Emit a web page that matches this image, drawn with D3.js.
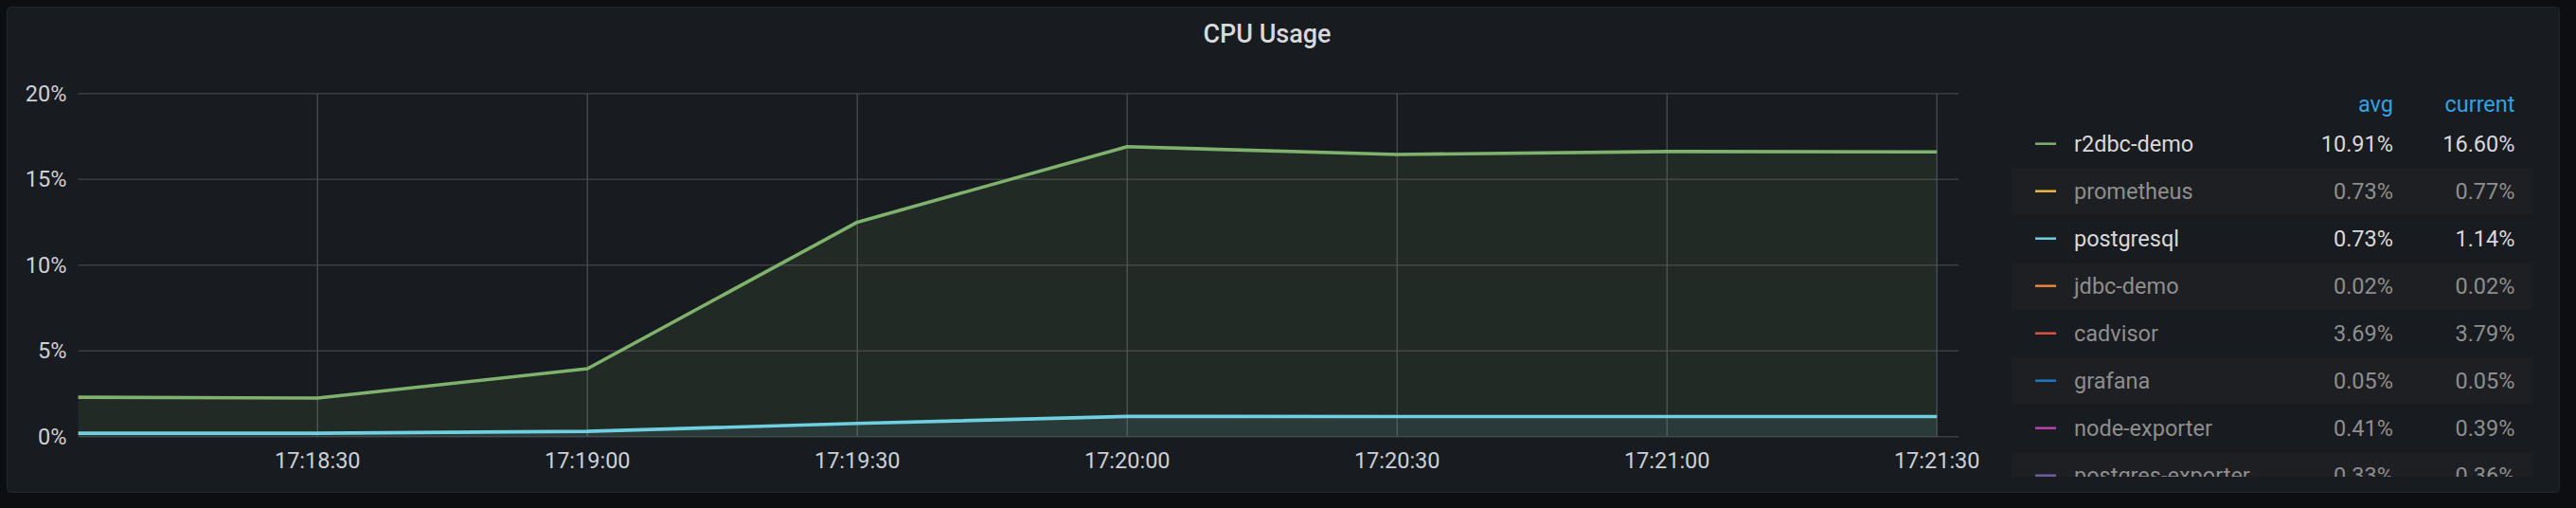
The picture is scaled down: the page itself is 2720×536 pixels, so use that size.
<!DOCTYPE html>
<html>
<head>
<meta charset="utf-8">
<script src="https://cdn.jsdelivr.net/npm/d3@7"></script>
<style>
  html, body { margin: 0; padding: 0; background: #0d0e11; }
  svg { display: block; font-family: Roboto, "Noto Sans", sans-serif; }
</style>
</head>
<body>
<svg id="chart" width="2720" height="536"></svg>
<script>
// ---------- data ----------
const title = "CPU Usage";
const sampleTimes = ["17:18:00", "17:18:30", "17:19:00", "17:19:30", "17:20:00", "17:20:30", "17:21:00", "17:21:30"];
const r2dbcDemoValues = [2.3, 2.25, 3.96, 12.5, 16.9, 16.45, 16.62, 16.6];
const postgresqlValues = [0.2, 0.2, 0.31, 0.77, 1.18, 1.17, 1.17, 1.17];
const yTickValues = [0, 5, 10, 15, 20];
const xTickLabels = ["17:18:30", "17:19:00", "17:19:30", "17:20:00", "17:20:30", "17:21:00", "17:21:30"];
const timeRange = ["17:18:03.4", "17:21:32.4"];

const legendNames = ["r2dbc-demo", "prometheus", "postgresql", "jdbc-demo", "cadvisor", "grafana", "node-exporter", "postgres-exporter"];
const legendAvg = ["10.91%", "0.73%", "0.73%", "0.02%", "3.69%", "0.05%", "0.41%", "0.33%"];
const legendCurrent = ["16.60%", "0.77%", "1.14%", "0.02%", "3.79%", "0.05%", "0.39%", "0.36%"];
const legendColors = ["#7eb26d", "#eab839", "#6ed0e0", "#ef843c", "#e24d42", "#1f78c1", "#ba43a9", "#705da0"];
const legendVisible = [true, false, true, false, false, false, false, false];
const legendHeaders = ["avg", "current"];

// ---------- setup ----------
const parseT = d3.timeParse("%H:%M:%S");
const parseTms = d3.timeParse("%H:%M:%S.%L");
const pt = s => s.includes(".") ? parseTms(s + "00") : parseT(s);

const svg = d3.select("#chart");

// panel
svg.append("rect")
  .attr("x", 7.5).attr("y", 7.5).attr("width", 2695).attr("height", 512)
  .attr("rx", 4).attr("fill", "#181b1f").attr("stroke", "#24262b");

// title
svg.append("text")
  .attr("x", 1338).attr("y", 36)
  .attr("text-anchor", "middle").attr("dominant-baseline", "central")
  .attr("font-size", 27).attr("font-weight", 500).attr("fill", "#d8d9da")
  .text(title);

const plotLeft = 82.6, plotRight = 2068, plotTop = 98.7, plotBottom = 460.7;
const x = d3.scaleTime().domain(timeRange.map(pt)).range([plotLeft, plotRight]);
const y = d3.scaleLinear().domain([0, 20]).range([plotBottom, plotTop]);

// grid
const gridColor = "#3c3e43";
const g = svg.append("g");
g.selectAll(".hg").data(yTickValues).join("line")
  .attr("x1", plotLeft).attr("x2", plotRight)
  .attr("y1", d => y(d)).attr("y2", d => y(d))
  .attr("stroke", gridColor).attr("stroke-width", 1.5);
g.selectAll(".vg").data(xTickLabels).join("line")
  .attr("x1", d => x(pt(d))).attr("x2", d => x(pt(d)))
  .attr("y1", plotTop).attr("y2", plotBottom)
  .attr("stroke", "#45474c").attr("stroke-width", 1.5);

// y labels
svg.append("g").selectAll("text").data(yTickValues).join("text")
  .attr("x", 70.5).attr("y", d => y(d))
  .attr("text-anchor", "end").attr("dominant-baseline", "central")
  .attr("font-size", 23.5).attr("fill", "#ccd0d6")
  .text(d => d + "%");

// x labels
svg.append("g").selectAll("text").data(xTickLabels).join("text")
  .attr("x", d => x(pt(d))).attr("y", 486)
  .attr("text-anchor", "middle").attr("dominant-baseline", "central")
  .attr("font-size", 23.5).attr("fill", "#ccd0d6")
  .text(d => d);

// clip
svg.append("clipPath").attr("id", "plotclip").append("rect")
  .attr("x", plotLeft).attr("y", 0).attr("width", plotRight - plotLeft).attr("height", plotBottom);

const plot = svg.append("g").attr("clip-path", "url(#plotclip)");
const series = [
  { values: r2dbcDemoValues, color: legendColors[0] },
  { values: postgresqlValues, color: legendColors[2] }
];
series.forEach(s => {
  const pts = sampleTimes.map((t, i) => [pt(t), s.values[i]]);
  plot.append("path").datum(pts)
    .attr("d", d3.area().x(d => x(d[0])).y0(y(0)).y1(d => y(d[1])))
    .attr("fill", s.color).attr("fill-opacity", 0.1);
});
series.forEach(s => {
  const pts = sampleTimes.map((t, i) => [pt(t), s.values[i]]);
  plot.append("path").datum(pts)
    .attr("d", d3.line().x(d => x(d[0])).y(d => y(d[1])))
    .attr("fill", "none").attr("stroke", s.color).attr("stroke-width", 3.6)
    .attr("stroke-linejoin", "round");
});

// legend
const avgRight = 2527, curRight = 2655.5;
svg.append("g").selectAll("text").data(legendHeaders).join("text")
  .attr("x", (d, i) => i === 0 ? avgRight : curRight).attr("y", 110)
  .attr("text-anchor", "end").attr("dominant-baseline", "central")
  .attr("font-size", 23.5).attr("fill", "#33a2e5")
  .text(d => d);

svg.append("clipPath").attr("id", "legclip").append("rect")
  .attr("x", 2100).attr("y", 126).attr("width", 600).attr("height", 377);

const leg = svg.append("g").attr("clip-path", "url(#legclip)");
const rowY = i => 151.7 + i * 50;
const rows = leg.selectAll("g").data(legendNames).join("g");
rows.filter((d, i) => i % 2 === 1).append("rect")
  .attr("x", 2124).attr("width", 551)
  .attr("y", (d, i) => rowY(i * 2 + 1) - 25).attr("height", 50)
  .attr("fill", "#1d1f23");
rows.append("line")
  .attr("x1", 2149).attr("x2", 2171)
  .attr("y1", (d, i) => rowY(i)).attr("y2", (d, i) => rowY(i))
  .attr("stroke", (d, i) => legendColors[i]).attr("stroke-width", 2.5);
rows.append("text")
  .attr("x", 2190).attr("y", (d, i) => rowY(i))
  .attr("dominant-baseline", "central").attr("font-size", 23.5)
  .attr("fill", (d, i) => legendVisible[i] ? "#d8d9da" : "#8e8e8e")
  .text(d => d);
rows.append("text")
  .attr("x", avgRight).attr("y", (d, i) => rowY(i))
  .attr("text-anchor", "end").attr("dominant-baseline", "central").attr("font-size", 23.5)
  .attr("fill", (d, i) => legendVisible[i] ? "#d8d9da" : "#8e8e8e")
  .text((d, i) => legendAvg[i]);
rows.append("text")
  .attr("x", curRight).attr("y", (d, i) => rowY(i))
  .attr("text-anchor", "end").attr("dominant-baseline", "central").attr("font-size", 23.5)
  .attr("fill", (d, i) => legendVisible[i] ? "#d8d9da" : "#8e8e8e")
  .text((d, i) => legendCurrent[i]);
</script>
</body>
</html>
